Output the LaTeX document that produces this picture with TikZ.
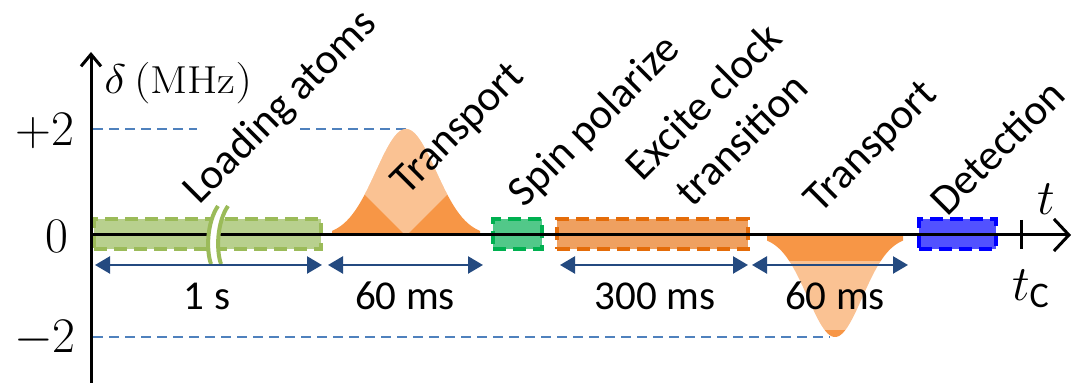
\documentclass[tikz,border=0pt]{standalone}
\usepackage{fontspec}
\newfontfamily\cfont{Carlito}
\usetikzlibrary{arrows.meta}
\definecolor{loadfill}{RGB}{184,208,142}
\definecolor{loaddraw}{RGB}{155,187,89}
\definecolor{spinfill}{RGB}{82,200,137}
\definecolor{spindraw}{RGB}{0,176,80}
\definecolor{excitefill}{RGB}{239,160,96}
\definecolor{excitedraw}{RGB}{228,108,10}
\definecolor{detfill}{RGB}{82,82,255}
\definecolor{detdraw}{RGB}{0,0,255}
\definecolor{bumpfill}{RGB}{247,150,70}
\definecolor{dashblue}{RGB}{79,129,189}
\definecolor{arrowblue}{RGB}{36,74,128}
\begin{document}
\begin{tikzpicture}[x=0.5pt,y=-0.5pt,
  box/.style={draw, line width=2pt, dash pattern=on 6.5pt off 3.5pt, minimum height=15pt, inner sep=0pt, outer sep=0pt},
  dimarrow/.style={draw=arrowblue, line width=1.2pt, {Triangle[length=7.5pt,width=8.5pt]}-{Triangle[length=7.5pt,width=8.5pt]}},
  guide/.style={draw=dashblue, line width=1pt, dash pattern=on 5pt off 3pt},
  axisline/.style={draw=black, line width=1.5pt},
  steplabel/.style={font=\cfont\fontsize{21.5}{27}\selectfont, rotate=45, anchor=center, inner sep=0pt, align=center},
  durlabel/.style={font=\cfont\fontsize{20.5}{24}\selectfont, anchor=base, inner sep=0pt},
  ticklabel/.style={font=\fontsize{24.5}{26}\selectfont, inner sep=0pt}
]
\useasboundingbox (0,0) rectangle (1073,383);

% guide lines
\coordinate (p2a) at (93,129);
\coordinate (p2b) at (197,129);
\coordinate (p2c) at (300,129);
\coordinate (peak1) at (408,129);
\coordinate (m2a) at (93,337);
\coordinate (trough2) at (830,337);
\draw[guide] (p2a) -- (p2b);
\draw[guide] (p2c) -- (peak1);
\draw[guide] (m2a) -- (trough2);

% transport bumps
\fill[bumpfill] plot[domain=332:480,samples=100] (\x,{236-107*exp(-((\x-406)^2)/1800)}) -- (480,236) -- (332,236) -- cycle;
\begin{scope}
\clip plot[domain=332:480,samples=100] (\x,{236-107*exp(-((\x-406)^2)/1800)}) -- (480,236) -- (332,236) -- cycle;
\fill[white,opacity=0.42] (406,236) -- (206,36) -- (606,36) -- cycle;
\end{scope}
\fill[bumpfill] plot[domain=767:903,samples=100] (\x,{236+101*exp(-((\x-835)^2)/1500)}) -- (903,236) -- (767,236) -- cycle;
\fill[white,opacity=0.42] (753,261) rectangle (918,330);

% stage boxes
\node[box, draw=loaddraw, fill=loadfill, minimum width=113.5pt] (load) at (207.5,234) {};
\node[box, draw=spindraw, fill=spinfill, minimum width=24.5pt] (spin) at (517.5,234) {};
\node[box, draw=excitedraw, fill=excitefill, minimum width=95.5pt] (excite) at (652.5,234) {};
\node[box, draw=detdraw, fill=detfill, minimum width=38.5pt] (det) at (957.5,234) {};

% axes
\coordinate (origin) at (91,235);
\coordinate (ytop) at (91,52);
\coordinate (ybot) at (91,383);
\coordinate (xend) at (1071,235);
\draw[axisline, -{Straight Barb[length=6pt,width=10pt]}] (ybot) -- (ytop);
\draw[axisline, -{Straight Barb[length=7.5pt,width=16pt]}] (origin) -- (xend);

% break marks
\fill[white] (218,206) .. controls (207,222) and (206,250) .. (211,264) -- (221,264) .. controls (216,250) and (217,222) .. (228,206) -- cycle;
\draw[loaddraw, line width=2pt] (218,206) .. controls (207,222) and (206,250) .. (211,264);
\draw[loaddraw, line width=2pt] (228,206) .. controls (217,222) and (216,250) .. (221,264);

% tick at t_C
\coordinate (tctop) at (1021,220);
\coordinate (tcbot) at (1021,249);
\draw[axisline] (tctop) -- (tcbot);

% duration arrows
\coordinate (d1a) at (95,265);
\coordinate (d1b) at (322,265);
\coordinate (d2a) at (328,265);
\coordinate (d2b) at (483,265);
\coordinate (d3a) at (560,265);
\coordinate (d3b) at (748,265);
\coordinate (d4a) at (752,265);
\coordinate (d4b) at (908,265);
\draw[dimarrow] (d1a) -- (d1b);
\draw[dimarrow] (d2a) -- (d2b);
\draw[dimarrow] (d3a) -- (d3b);
\draw[dimarrow] (d4a) -- (d4b);

\node[durlabel] (dur1) at (207,310) {1 s};
\node[durlabel] (dur2) at (405,310) {60 ms};
\node[durlabel] (dur3) at (655,310) {300 ms};
\node[durlabel] (dur4) at (835,310) {60 ms};

% stage labels
\node[steplabel] (lload) at (281,108) {Loading atoms};
\node[steplabel] (ltr1) at (459,130) {Transport};
\node[steplabel] (lspin) at (595,122) {Spin polarize};
\node[steplabel] (lexc) at (722,120) {Excite clock\\transition};
\node[steplabel] (ltr2) at (872,148) {Transport};
\node[steplabel] (ldet) at (997,147) {Detection};

% axis labels
\node[ticklabel] (yp2) at (45,131) {$+2$};
\node[ticklabel] (y0) at (57,236) {$0$};
\node[ticklabel] (ym2) at (45,339) {$-2$};
\node[anchor=base west, inner sep=0pt, font=\fontsize{19.5}{22}\selectfont, xscale=1.12] (ylab) at (104,94) {$\delta\,(\mathrm{MHz})$};
\node[font=\fontsize{24}{26}\selectfont, inner sep=0pt] (tlab) at (1046,199) {$t$};
\node[font=\fontsize{24}{26}\selectfont, inner sep=0pt] (tclab) at (1031,289) {$t_{\hbox{\cfont\fontsize{18}{18}\selectfont C}}$};
\end{tikzpicture}
\end{document}
